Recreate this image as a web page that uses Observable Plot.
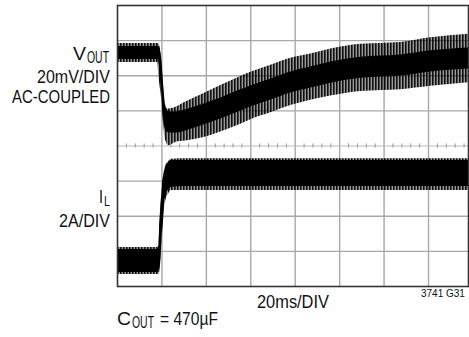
<!DOCTYPE html>
<html><head><meta charset="utf-8">
<script src="https://cdn.jsdelivr.net/npm/d3@7"></script>
<script src="https://cdn.jsdelivr.net/npm/@observablehq/plot@0.6"></script>
<style>
html,body{margin:0;padding:0;background:#fff;}
#chart{position:relative;width:469px;height:337px;}
svg{display:block;}
</style></head><body><div id="chart"></div>
<script>
// x: time in ms (20 ms/div); y: screen divisions (0 = bottom, 8 = top)
const gridTimes = [20, 40, 60, 80, 100, 120, 140];
const gridDivs = [1, 2, 3, 5, 6, 7];
const centerDiv = 4;
const centerTicks = [4,8,12,16,24,28,32,36,44,48,52,56,64,68,72,76,84,88,92,96,104,108,112,116,124,128,132,136,144,148,152,156];

// V_OUT trace envelope
const voutTime    = [0, 18.1, 18.6, 19.9, 20.8, 21.7, 23.1, 26.2, 30.7, 37.5, 46.5, 55.5, 60.0, 69.0, 78.0, 87.0, 96.0, 109.5, 127.5, 141.0, 158.0];
const voutOuterHi = [6.92, 6.92, 6.92, 6.38, 5.58, 5.07, 5.05, 5.10, 5.25, 5.45, 5.72, 5.98, 6.10, 6.30, 6.50, 6.62, 6.76, 6.90, 6.95, 7.08, 7.18];
const voutOuterLo = [6.38, 6.38, 6.01, 5.30, 4.58, 4.16, 4.01, 4.10, 4.14, 4.22, 4.40, 4.62, 4.75, 4.95, 5.15, 5.30, 5.42, 5.55, 5.60, 5.70, 5.80];
const voutCoreHi  = [6.83, 6.83, 6.83, 6.49, 5.72, 5.15, 4.97, 4.97, 5.03, 5.17, 5.37, 5.60, 5.71, 5.91, 6.11, 6.25, 6.39, 6.53, 6.59, 6.71, 6.79];
const voutCoreLo  = [6.46, 6.46, 6.38, 5.52, 4.78, 4.44, 4.37, 4.37, 4.43, 4.57, 4.77, 5.00, 5.11, 5.31, 5.51, 5.65, 5.79, 5.93, 5.99, 6.11, 6.19];

// I_L trace envelope
const ilTime    = [0, 18.1, 18.6, 19.0, 19.5, 20.4, 21.3, 22.2, 24.0, 28.5, 158.0];
const ilOuterHi = [1.11, 1.11, 1.17, 1.74, 2.31, 3.02, 3.36, 3.50, 3.62, 3.64, 3.64];
const ilOuterLo = [0.34, 0.34, 0.34, 0.40, 0.68, 1.59, 2.31, 2.56, 2.73, 2.73, 2.73];
const ilCoreHi  = [1.05, 1.05, 1.11, 1.65, 2.22, 2.96, 3.30, 3.47, 3.59, 3.59, 3.59];
const ilCoreLo  = [0.40, 0.40, 0.40, 0.51, 0.80, 1.82, 2.45, 2.68, 2.82, 2.85, 2.85];

const toRows = (t, lo, hi) => t.map((v, i) => ({t: v, lo: lo[i], hi: hi[i]}));
const voutOuter = toRows(voutTime, voutOuterLo, voutOuterHi);
const voutCore = toRows(voutTime, voutCoreLo, voutCoreHi);
const ilOuter = toRows(ilTime, ilOuterLo, ilOuterHi);
const ilCore = toRows(ilTime, ilCoreLo, ilCoreHi);

const chart = Plot.plot({
  width: 469, height: 337,
  marginLeft: 117, marginRight: 1, marginTop: 5, marginBottom: 51,
  x: {domain: [0, 158], axis: null},
  y: {domain: [0, 8], axis: null},
  marks: [
    Plot.ruleX(gridTimes, {stroke: "#a8a8a8", strokeWidth: 1.4}),
    Plot.ruleY(gridDivs, {stroke: "#a8a8a8", strokeWidth: 1.4}),
    Plot.ruleY([centerDiv], {stroke: "#b8b8b8", strokeWidth: 1}),
    Plot.ruleX(centerTicks, {y1: 3.94, y2: 4.06, stroke: "#999", strokeWidth: 1}),
    Plot.areaY(voutOuter, {x: "t", y1: "lo", y2: "hi", fill: "url(#streaks)", curve: "monotone-x"}),
    Plot.areaY(voutCore, {x: "t", y1: "lo", y2: "hi", fill: "#000", curve: "monotone-x"}),
    Plot.areaY(ilOuter, {x: "t", y1: "lo", y2: "hi", fill: "url(#streaks)"}),
    Plot.areaY(ilCore, {x: "t", y1: "lo", y2: "hi", fill: "#000"}),
    Plot.frame({stroke: "#333", strokeWidth: 1.6})
  ]
});
document.getElementById("chart").appendChild(chart);

const svg = d3.select(chart);
const defs = svg.insert("defs", ":first-child");
const pat = defs.append("pattern").attr("id", "streaks").attr("patternUnits", "userSpaceOnUse")
  .attr("width", 3).attr("height", 7);
pat.append("rect").attr("width", 3).attr("height", 7).attr("fill", "rgba(0,0,0,0.4)");
pat.append("rect").attr("width", 1.6).attr("height", 7).attr("fill", "rgba(0,0,0,0.9)");

const font = "'Liberation Sans', Arial, sans-serif";
// text narrowed horizontally (condensed look) with a scale transform
function label(x, y, text, size, len, anchor) {
  const t = svg.append("text")
    .attr("text-anchor", anchor || "start").attr("font-family", font)
    .attr("font-size", size).attr("fill", "#111")
    .text(text);
  const natural = t.node().getComputedTextLength() || len;
  const sx = len / natural;
  t.attr("transform", `translate(${x},${y}) scale(${sx},1)`);
}
const xl = chart.scale("x").apply(0) - 7;
label(73, 60, "V", 19, 13);
label(87, 63, "OUT", 16, 22);
label(xl, 83, "20mV/DIV", 19, 73, "end");
label(xl, 103, "AC-COUPLED", 19, 98, "end");
label(99, 203, "I", 19, 4);
label(104, 206, "L", 14, 6);
label(xl, 227, "2A/DIV", 19, 51, "end");
label(257, 308, "20ms/DIV", 19, 72);
label(421, 297, "3741 G31", 11, 44);
label(117, 325, "C", 19, 14);
label(132, 328, "OUT", 16, 22);
label(160, 325, "= 470µF", 19, 58);
</script></body></html>
